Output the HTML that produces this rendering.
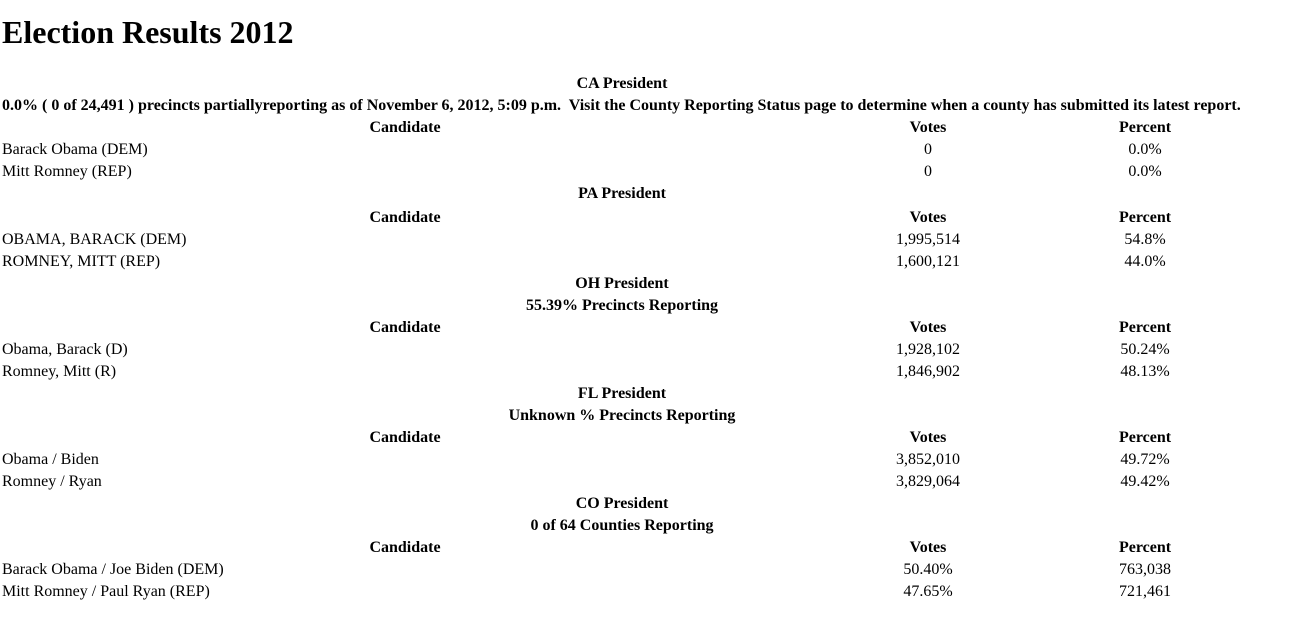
<!DOCTYPE html>
<html><head><meta charset="utf-8"><style>
body{margin:0;width:1298px;height:624px;background:#fff;font-family:"Liberation Serif",serif;color:#000;position:relative;overflow:hidden}
h1{position:absolute;left:2px;top:14px;margin:0;font-size:32px;font-weight:bold}
.r{position:absolute;height:22px;line-height:22px;font-size:16px;white-space:nowrap}
.c{text-align:center}
.b{font-weight:bold}
</style></head><body>
<h1>Election Results 2012</h1>
<div id="t"></div>
<script>
const rows=[
 ['T','CA President'],
 ['L','0.0% ( 0 of 24,491 ) precincts partiallyreporting as of November 6, 2012, 5:09 p.m.&nbsp; Visit the County Reporting Status page to determine when a county has submitted its latest report.'],
 ['H'],
 ['D','Barack Obama (DEM)','0','0.0%'],
 ['D','Mitt Romney (REP)','0','0.0%'],
 ['T','PA President'],
 ['H'],
 ['D','OBAMA, BARACK (DEM)','1,995,514','54.8%'],
 ['D','ROMNEY, MITT (REP)','1,600,121','44.0%'],
 ['T','OH President'],
 ['T','55.39% Precincts Reporting'],
 ['H'],
 ['D','Obama, Barack (D)','1,928,102','50.24%'],
 ['D','Romney, Mitt (R)','1,846,902','48.13%'],
 ['T','FL President'],
 ['T','Unknown % Precincts Reporting'],
 ['H'],
 ['D','Obama / Biden','3,852,010','49.72%'],
 ['D','Romney / Ryan','3,829,064','49.42%'],
 ['T','CO President'],
 ['T','0 of 64 Counties Reporting'],
 ['H'],
 ['D','Barack Obama / Joe Biden (DEM)','50.40%','763,038'],
 ['D','Mitt Romney / Paul Ryan (REP)','47.65%','721,461']
];
const t=document.getElementById('t');
function cell(x,w,y,html,cls,name){
 const d=document.createElement('div');
 d.className='r '+cls;d.style.left=x+'px';d.style.width=w+'px';d.style.top=y+'px';d.innerHTML=html;
 
 
 t.appendChild(d);
}
rows.forEach((r,i)=>{
 const y=73+22*i+(i>=6?2:0);
 if(r[0]==='T')cell(2,1240,y,r[1],'c b','section-title');
 else if(r[0]==='L')cell(2,1280,y,r[1],'b','reporting-status');
 else if(r[0]==='H'){cell(2,806,y,'Candidate','c b','candidate-header');cell(808,240,y,'Votes','c b','votes-header');cell(1048,194,y,'Percent','c b','percent-header');}
 else {cell(2,806,y,r[1],'','candidate-name');cell(808,240,y,r[2],'c','votes-value');cell(1048,194,y,r[3],'c','percent-value');}
});
</script>
</body></html>
